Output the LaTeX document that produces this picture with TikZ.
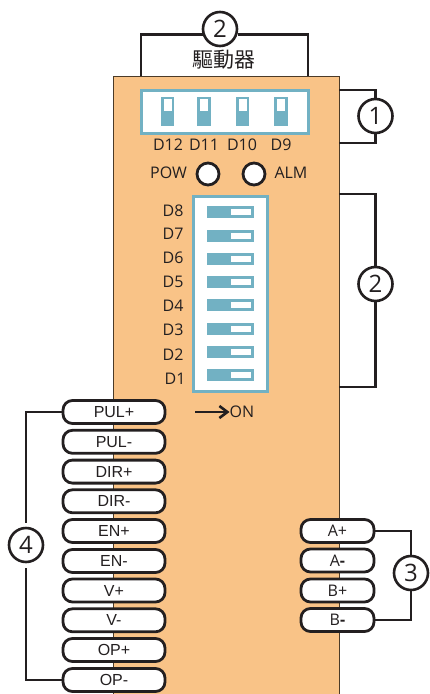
\documentclass[tikz,border=0pt]{standalone}
\usepackage{fontspec}
\usetikzlibrary{arrows.meta}
\setmainfont{Open Sans}
\newfontfamily\cjkfont{Noto Sans CJK TC}
\newfontfamily\armfont{Liberation Sans}
\definecolor{bodyfill}{HTML}{F9C387}
\definecolor{dipblue}{HTML}{72B1C3}
\definecolor{inkdark}{HTML}{231F20}
\begin{document}
\begin{tikzpicture}[x=1pt,y=-1pt,
  wire/.style={draw=inkdark,line width=2.6pt},
  ring/.style={circle,draw=inkdark,fill=white,line width=2.6pt,minimum size=34pt,inner sep=0pt,font=\fontsize{24}{24}\selectfont,text=inkdark},
  led/.style={circle,draw=inkdark,fill=white,line width=2.8pt,minimum size=22pt,inner sep=0pt},
  tag/.style={inner sep=0pt,font=\fontsize{16}{16}\selectfont,text=inkdark},
  pill/.style={rounded corners=9.5pt,draw=inkdark,fill=white,line width=2.8pt,minimum width=102pt,minimum height=23pt,inner sep=0pt,font=\armfont\fontsize{16}{16}\selectfont,text=inkdark},
  pillb/.style={pill,minimum width=73pt,font=\fontsize{16}{16}\selectfont},
  dipbox/.style={draw=dipblue,fill=white,line width=3pt}]
\useasboundingbox (0,0) rectangle (429,694);
% housing and its edge points:
\path[draw=black!70!bodyfill,fill=bodyfill,line width=1pt] (113,76) rectangle (339,700);
\coordinate (topl) at (141,76);
\coordinate (topr) at (308,76);
\coordinate (sidea) at (339,90);
\coordinate (sideb) at (339,143);
\coordinate (sidec) at (339,194);
\coordinate (sided) at (339,387);
% circled numbers:
\node[ring] (numtop) at (220,29) {2};
\node[ring] (numa) at (375.5,116) {1};
\node[ring] (numb) at (375.5,284) {2};
\node[ring] (numc) at (411,573) {3};
\node[ring] (numd) at (26,545) {4};
\node[inner sep=0pt,font=\cjkfont\fontsize{21}{21}\selectfont,text=inkdark] (title) at (224,60) {驅動器};
% upper switches:
\path[dipbox] (141,90) rectangle (308,133);
\path[fill=dipblue] (161,97) rectangle (174,126);
\path[fill=white] (164,99) rectangle (172,111);
\path[fill=dipblue] (197,97) rectangle (211,126);
\path[fill=white] (200,99) rectangle (208,111);
\path[fill=dipblue] (236,97) rectangle (249,126);
\path[fill=white] (239,99) rectangle (247,111);
\path[fill=dipblue] (274,97) rectangle (288,126);
\path[fill=white] (277,99) rectangle (285,111);
\node[tag] (dtw) at (168,145) {D12};
\node[tag] (del) at (204,145) {D11};
\node[tag] (dte) at (242,145) {D10};
\node[tag] (dni) at (281,145) {D9};
% lamps:
\node[led] (ledpow) at (208,174) {};
\node[led] (ledalm) at (254,174) {};
\node[tag] (pow) at (168.5,173) {POW};
\node[tag] (alm) at (291,173) {ALM};
% lower switches:
\path[dipbox] (193,196) rectangle (267,391);
\path[fill=dipblue] (207,206) rectangle (254,218);
\path[fill=white] (231,209) rectangle (251,215);
\path[fill=dipblue] (207,229.5) rectangle (254,241.5);
\path[fill=white] (231,232.5) rectangle (251,238.5);
\path[fill=dipblue] (207,253) rectangle (254,265);
\path[fill=white] (231,256) rectangle (251,262);
\path[fill=dipblue] (207,276) rectangle (254,288);
\path[fill=white] (231,279) rectangle (251,285);
\path[fill=dipblue] (207,299) rectangle (254,311);
\path[fill=white] (231,302) rectangle (251,308);
\path[fill=dipblue] (207,322.5) rectangle (254,334.5);
\path[fill=white] (231,325.5) rectangle (251,331.5);
\path[fill=dipblue] (207,346) rectangle (254,358);
\path[fill=white] (231,349) rectangle (251,355);
\path[fill=dipblue] (207,369) rectangle (254,381);
\path[fill=white] (231,372) rectangle (251,378);
\node[tag] (deight) at (173,211) {D8};
\node[tag] (dseven) at (173,234) {D7};
\node[tag] (dsix) at (173,258) {D6};
\node[tag] (dfive) at (173,282) {D5};
\node[tag] (dfour) at (173,306) {D4};
\node[tag] (dthree) at (173,330) {D3};
\node[tag] (dtwo) at (173,355) {D2};
\node[tag] (done) at (175,379) {D1};
\node[tag] (on) at (242,412) {ON};
\coordinate (onstart) at (195,412);
\draw[wire,-{Straight Barb[length=8pt,width=12pt]}] (onstart) -- (on.west);
% left terminals:
\node[pill] (pulp) at (114,412) {PUL+};
\node[pill] (pulm) at (114,441.8) {PUL-};
\node[pill] (dirp) at (114,471.6) {DIR+};
\node[pill] (dirm) at (114,501.3) {DIR-};
\node[pill] (enp) at (114,531) {EN+};
\node[pill] (enm) at (114,561) {EN-};
\node[pill] (vp) at (114,590.5) {V+};
\node[pill] (vm) at (114,620.3) {V-};
\node[pill] (opp) at (114,650) {OP+};
\node[pill] (opm) at (114,680) {OP-};
% right terminals:
\node[pillb] (ap) at (337.5,531) {A+};
\node[pillb] (am) at (337.5,560.5) {A\textbf{-}};
\node[pillb] (bp) at (337.5,590.5) {B+};
\node[pillb] (bm) at (337.5,620) {B\textbf{-}};
% brackets:
\draw[wire] (topl) |- (numtop.197);
\draw[wire] (topr) |- (numtop.-17);
\draw[wire] (sidea) -| (numa.north);
\draw[wire] (sideb) -| (numa.south);
\draw[wire] (sidec) -| (numb.north);
\draw[wire] (sided) -| (numb.south);
\draw[wire] (ap.east) -| (numc.north);
\draw[wire] (bm.east) -| (numc.south);
\draw[wire,shorten >=4pt] (pulp.west) -| (numd.north);
\draw[wire,shorten >=5pt] (opm.west) -| (numd.south);
\end{tikzpicture}
\end{document}
